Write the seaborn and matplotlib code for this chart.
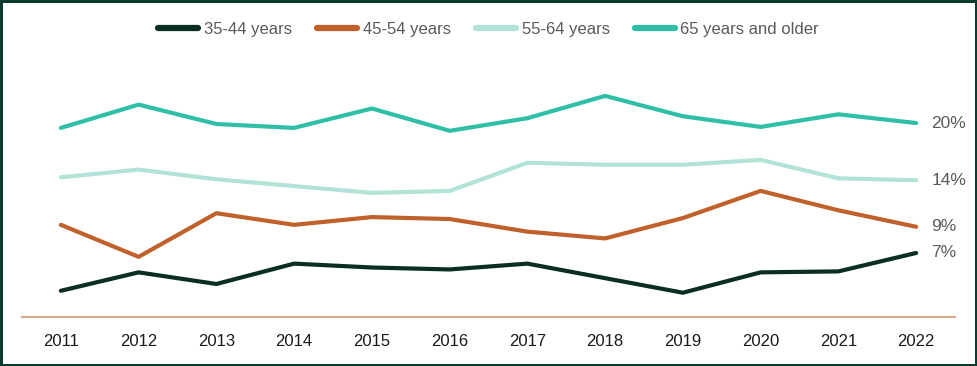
import pandas as pd
import matplotlib
matplotlib.use("Agg")
import matplotlib.pyplot as plt
import seaborn as sns

years = list(range(2011, 2023))
age_groups = ["35-44 years", "45-54 years", "55-64 years", "65 years and older"]

share_35_44 = [2.7, 4.6, 3.4, 5.5, 5.1, 4.9, 5.5, 4.0, 2.5, 4.6, 4.7, 6.6]
share_45_54 = [9.5, 6.2, 10.7, 9.5, 10.3, 10.1, 8.8, 8.1, 10.2, 13.0, 11.0, 9.3]
share_55_64 = [14.4, 15.2, 14.2, 13.5, 12.8, 13.0, 15.9, 15.7, 15.7, 16.2, 14.3, 14.1]
share_65_up = [19.5, 21.9, 19.9, 19.5, 21.5, 19.2, 20.5, 22.8, 20.7, 19.6, 20.9, 20.0]

end_labels = ["7%", "9%", "14%", "20%"]
colors = ["#0B2E24", "#C0602A", "#B2E3D8", "#2EBFA6"]

series = [share_35_44, share_45_54, share_55_64, share_65_up]
rows = []
for group, vals in zip(age_groups, series):
    for yr, v in zip(years, vals):
        rows.append({"year": yr, "share": v, "group": group})
df = pd.DataFrame(rows)

sns.set_style("white")
plt.rcParams["font.family"] = ["Liberation Sans", "DejaVu Sans"]

fig = plt.figure(figsize=(9.77, 3.66), dpi=100, edgecolor="#0B3B2E", linewidth=2.5)
ax = fig.add_axes([0.0225, 0.134, 0.955, 0.702])

sns.lineplot(data=df, x="year", y="share", hue="group", hue_order=age_groups,
             palette=colors, linewidth=3, ax=ax, legend=False,
             solid_capstyle="round")

# value labels at the right end of each line
for vals, lab in zip(series, end_labels):
    ax.annotate(lab, xy=(years[-1], vals[-1]), xytext=(11, 0),
                textcoords="offset points", ha="left", va="center",
                fontsize=12.5, color="#595959", family="Liberation Sans",
                annotation_clip=False)

ax.set_xlim(2010.5, 2022.5)
ax.set_ylim(0, 26.5)
ax.set_xticks(years)
ax.set_xticklabels([str(y) for y in years], fontsize=12, color="#1A1A1A")
ax.set_yticks([])
ax.set_xlabel("")
ax.set_ylabel("")
ax.tick_params(axis="x", length=0, pad=12)

for side in ["top", "right", "left"]:
    ax.spines[side].set_visible(False)
ax.spines["bottom"].set_color("#D8A98A")
ax.spines["bottom"].set_linewidth(1.5)

handles = [plt.Line2D([], [], color=c, lw=4.5, solid_capstyle="round") for c in colors]
fig.legend(handles, age_groups, loc="center", bbox_to_anchor=(0.5, 0.92),
           ncol=4, frameon=False, fontsize=12, labelcolor="#595959",
           handlelength=2.4, handletextpad=0.35, columnspacing=1.5)

fig.savefig("out.png", dpi=100, edgecolor=fig.get_edgecolor())
